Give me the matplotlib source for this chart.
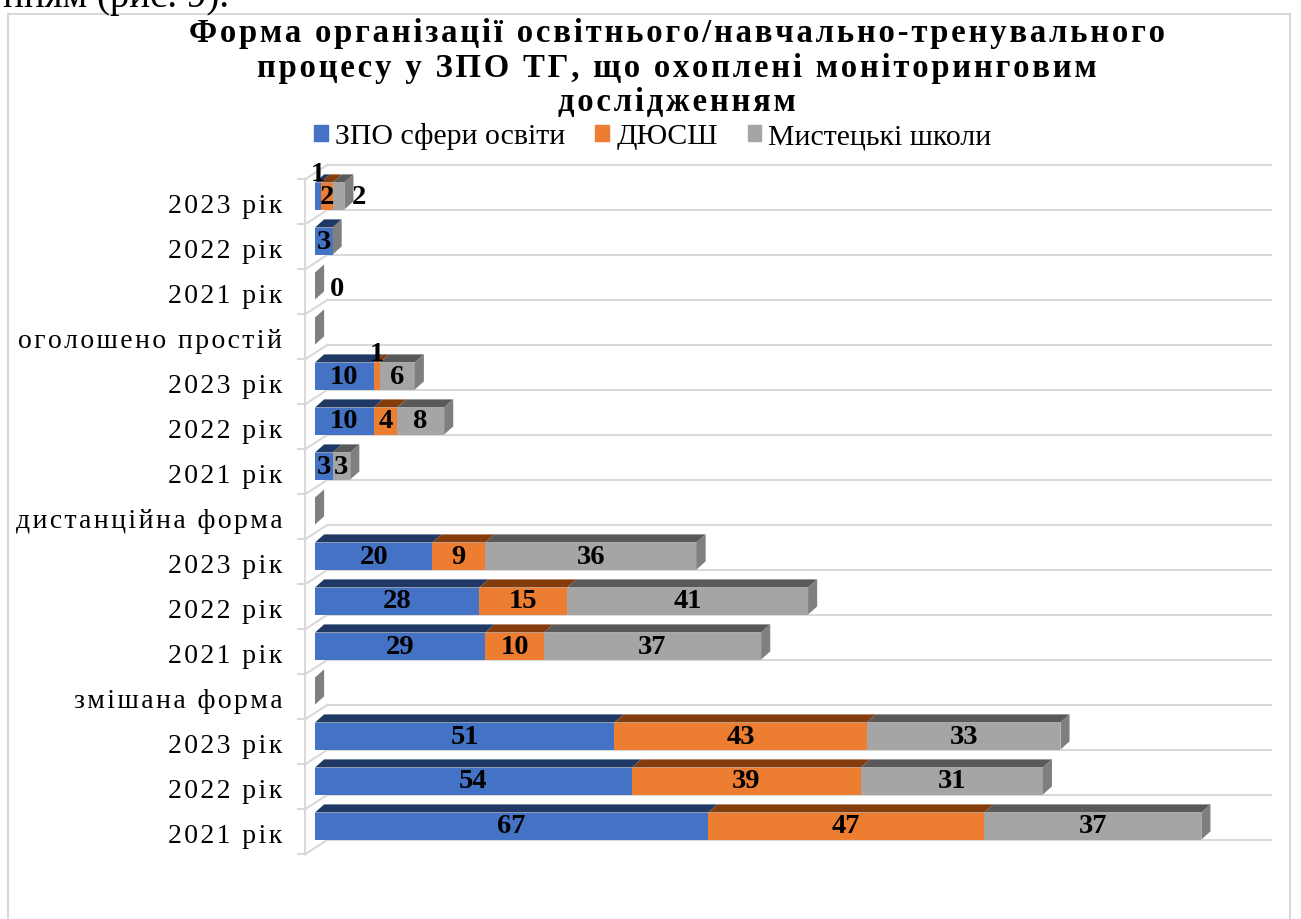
import numpy as np
import matplotlib
matplotlib.use("Agg")
import matplotlib.pyplot as plt
from matplotlib.patches import Rectangle

plt.rcParams['font.family'] = ['Liberation Serif', 'DejaVu Serif']

# rows from bottom to top
categories = ['2021 рік', '2022 рік', '2023 рік', 'змішана форма',
              '2021 рік', '2022 рік', '2023 рік', 'дистанційна форма',
              '2021 рік', '2022 рік', '2023 рік', 'оголошено простій',
              '2021 рік', '2022 рік', '2023 рік']
headers = ['змішана форма', 'дистанційна форма', 'оголошено простій']
series = ['ЗПО сфери освіти', 'ДЮСШ', 'Мистецькі школи']
zpo = [67, 54, 51, 0, 29, 28, 20, 0, 3, 10, 10, 0, 0, 3, 1]
dyussh = [47, 39, 43, 0, 10, 15, 9, 0, 0, 4, 1, 0, 0, 0, 2]
myst = [37, 31, 33, 0, 37, 41, 36, 0, 3, 8, 6, 0, 0, 0, 2]
title_lines = ['Форма організації освітнього/навчально-тренувального',
               'процесу у ЗПО ТГ, що охоплені моніторинговим',
               'дослідженням']

front = ['#4472C4', '#ED7D31', '#A5A5A5']
top = ['#203864', '#843C0C', '#595959']
side = '#7F7F7F'
grid = '#D9D9D9'


def spaced(s, sep='\u2009'):
    return sep.join(list(s))


fig = plt.figure(figsize=(13.01, 9.20), dpi=100)
ax = fig.add_axes([297.4 / 1301, 52.5 / 920, 974.4 / 1301, 711 / 920])
ax.set_xlim(-3, 163)
ax.set_ylim(-0.9, 14.9)
ax.axis('off')

h = 0.6
dx, dy = 1.55, 0.18
n = len(categories)
y = np.arange(n)

# back wall grid lines and left wall
for i in range(n + 1):
    yl = i - 0.3
    ax.plot([2.2, 163], [yl, yl], color=grid, lw=1.5, zorder=0)
    ax.plot([-1.7, 2.2], [yl - 0.33, yl], color=grid, lw=1.5, zorder=0)
    ax.plot([-4.2, -1.7], [yl - 0.33, yl - 0.33], color=grid, lw=1.5, zorder=0)
ax.plot([-1.7, -1.7], [-0.63, n - 0.63], color=grid, lw=1.5, zorder=0)

data = np.array([zpo, dyussh, myst], dtype=float)
left = np.zeros(n)
for k in range(3):
    vals = data[k]
    ax.barh(y, vals, left=left, height=h, color=front[k], zorder=3)
    for i in range(n):
        if vals[i] > 0:
            x0, x1 = left[i], left[i] + vals[i]
            yt = y[i] + h / 2
            ax.fill([x0, x1, x1 + dx, x0 + dx], [yt, yt, yt + dy, yt + dy],
                    color=top[k], zorder=3, lw=0)
    left = left + vals

for i in range(n):
    xe = left[i]
    yb, yt = y[i] - h / 2, y[i] + h / 2
    ax.fill([xe, xe + dx, xe + dx, xe], [yb, yb + dy, yt + dy, yt],
            color=side, zorder=3, lw=0)

# data labels
lab_fs = 20.5
for i in range(n):
    if categories[i] in headers:
        continue
    if left[i] == 0:
        ax.text(left[i] + dx + 2.2, y[i] - 0.05, '0', ha='center', va='center',
                fontsize=lab_fs, fontweight='bold', zorder=5)
        continue
    start = 0
    for k in range(3):
        v = data[k][i]
        if v > 0:
            xc = start + v / 2
            yc = y[i]
            if v == 1:
                yc = y[i] + 0.5
            elif k == 2 and v <= 2:
                xc = start + v + dx + 0.9
            ax.text(xc, yc, f'{int(v)}', ha='center', va='center',
                    fontsize=lab_fs, fontweight='bold', zorder=5)
        start += v

# category labels
for i, c in enumerate(categories):
    ax.text(-5.6, y[i] - 0.22, spaced(c, '\u200a'), ha='right', va='center',
            fontsize=20)

# title, one line at a time; size fitted so the first line is ~975 px wide
renderer = fig.canvas.get_renderer()
titles = []
for t, base in zip(title_lines, [42, 77, 111]):
    titles.append(fig.text(677 / 1301, 1 - base / 920, spaced(t, '\u200a'),
                           ha='center', va='baseline', fontsize=24, fontweight='bold'))
w = titles[0].get_window_extent(renderer).width
for t in titles:
    t.set_fontsize(24 * 975 / w)

handles = [Rectangle((0, 0), 1, 1, color=c) for c in front]
fig.legend(handles, series, loc='center', bbox_to_anchor=(653 / 1301, 1 - 137 / 920),
           ncol=3, frameon=False, fontsize=21.5, handlelength=0.45, handleheight=0.45,
           handletextpad=0.25, columnspacing=1.0, borderpad=0.1)

fig.text(3 / 1301, 1 - 7 / 920, 'нням (рис. 9).', ha='left', va='baseline', fontsize=28)

fig.patches.append(Rectangle((8 / 1301, -0.01), 1282 / 1301, 1 - 15 / 920 + 0.01,
                             transform=fig.transFigure, fill=False, edgecolor=grid, lw=1.5))

fig.savefig('out.png', dpi=100)
